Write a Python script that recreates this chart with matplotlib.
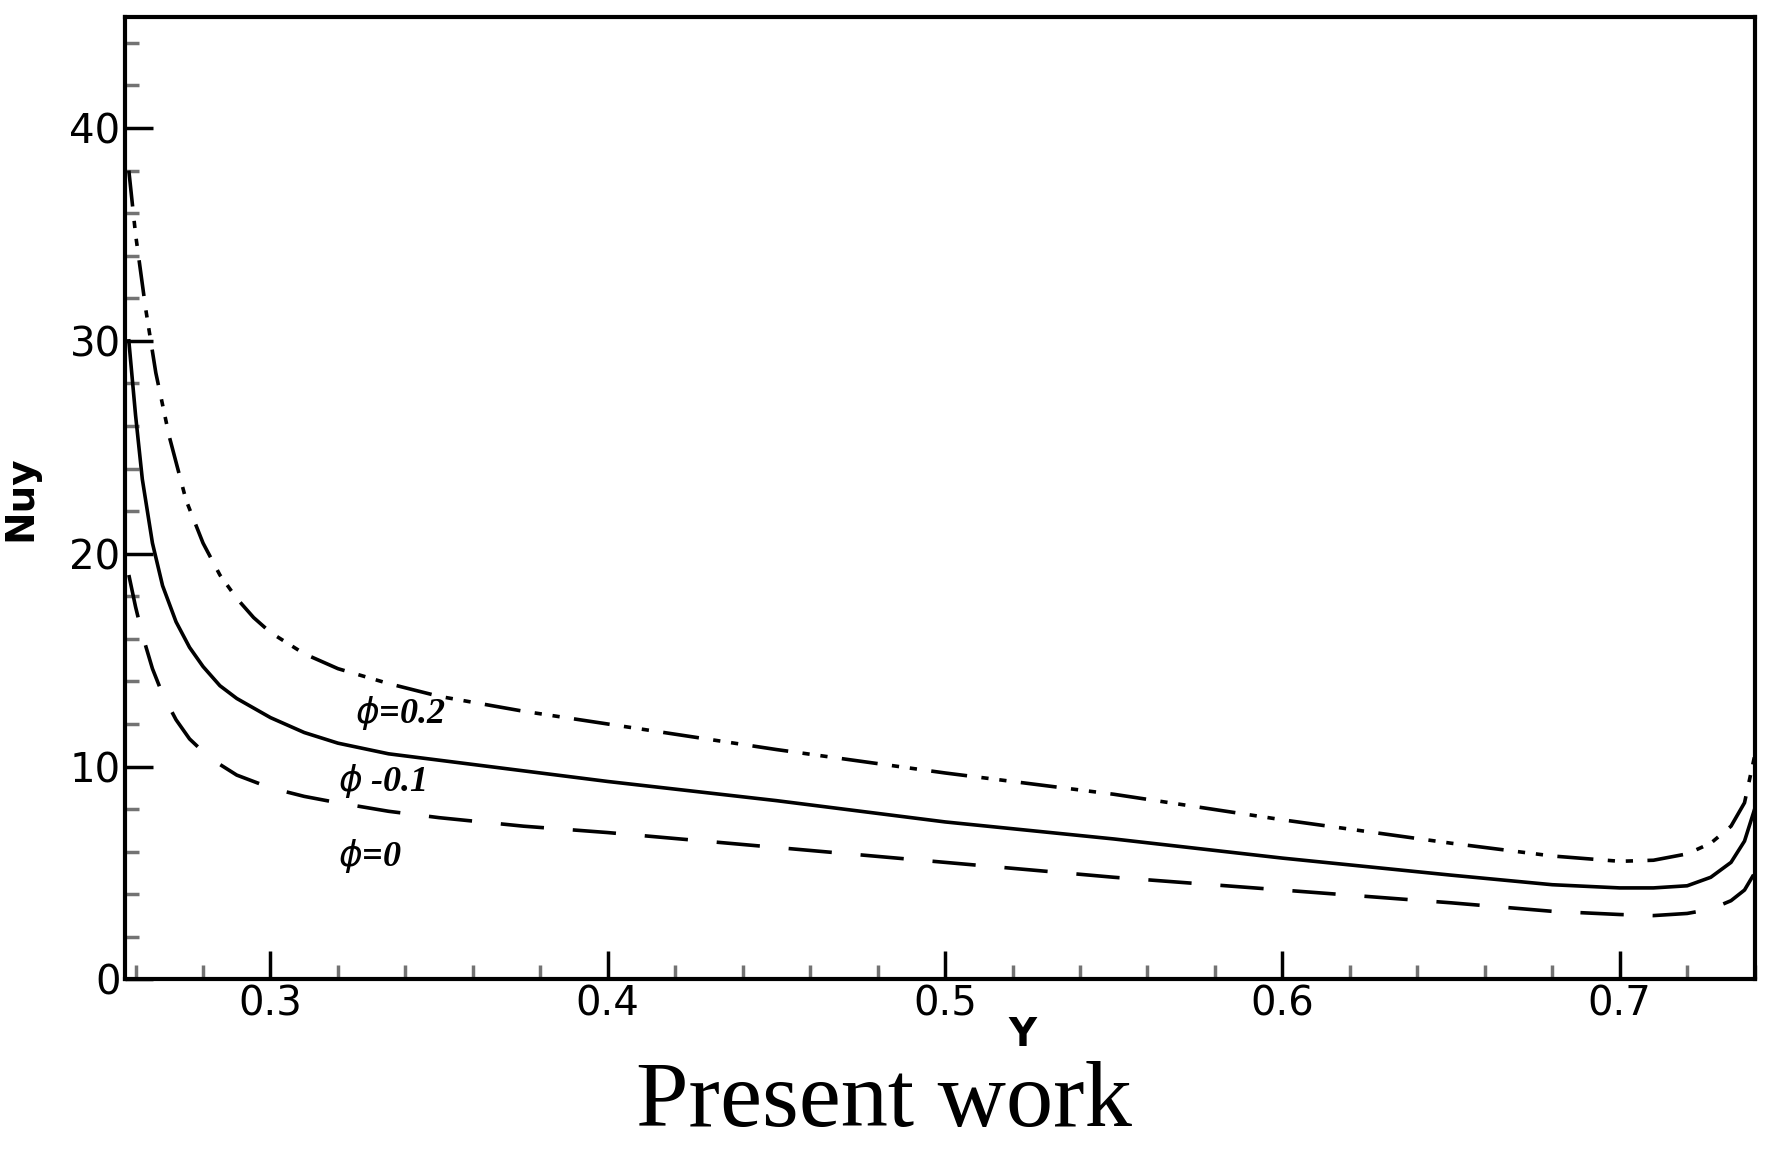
import matplotlib
matplotlib.use("Agg")
import matplotlib.pyplot as plt
from matplotlib.ticker import MultipleLocator

# Nuy vs Y for three volume fractions
y_02 = [0.258, 0.260, 0.263, 0.266, 0.270, 0.275, 0.280, 0.285, 0.290, 0.295, 0.30, 0.31, 0.32, 0.335, 0.35, 0.375,
        0.40, 0.45, 0.50, 0.55, 0.60, 0.65, 0.68, 0.70, 0.71, 0.72, 0.727, 0.733, 0.737, 0.74]
nu_02 = [38, 35, 31.5, 28.5, 25.5, 22.5, 20.5, 19.0, 17.9, 17.0, 16.3, 15.3, 14.6, 13.9, 13.3, 12.6,
         12.0, 10.8, 9.7, 8.7, 7.5, 6.4, 5.8, 5.55, 5.6, 5.9, 6.4, 7.2, 8.3, 10.5]

y_01 = [0.258, 0.260, 0.262, 0.265, 0.268, 0.272, 0.276, 0.280, 0.285, 0.29, 0.30, 0.31, 0.32, 0.335, 0.35, 0.375,
        0.40, 0.45, 0.50, 0.55, 0.60, 0.65, 0.68, 0.70, 0.71, 0.72, 0.727, 0.733, 0.737, 0.74]
nu_01 = [30, 26.5, 23.5, 20.5, 18.5, 16.8, 15.6, 14.7, 13.8, 13.2, 12.3, 11.6, 11.1, 10.6, 10.3, 9.8,
         9.3, 8.4, 7.4, 6.6, 5.7, 4.9, 4.45, 4.3, 4.3, 4.4, 4.8, 5.5, 6.5, 8.0]

y_00 = [0.258, 0.260, 0.262, 0.265, 0.268, 0.272, 0.276, 0.280, 0.285, 0.29, 0.30, 0.31, 0.32, 0.335, 0.35, 0.375,
        0.40, 0.45, 0.50, 0.55, 0.60, 0.65, 0.68, 0.70, 0.71, 0.72, 0.727, 0.733, 0.737, 0.74]
nu_00 = [19, 17.5, 16.2, 14.6, 13.4, 12.2, 11.3, 10.7, 10.1, 9.6, 9.0, 8.6, 8.3, 7.9, 7.6, 7.2,
         6.9, 6.2, 5.5, 4.8, 4.2, 3.6, 3.2, 3.05, 3.0, 3.1, 3.3, 3.7, 4.2, 5.0]

fig = plt.figure(figsize=(17.67, 11.55), dpi=100)
ax = fig.add_axes([0.071, 0.152, 0.922, 0.833])

ax.plot(y_02, nu_02, color="black", lw=2.6, dashes=[10, 4, 2, 3, 2, 4])
ax.plot(y_01, nu_01, color="black", lw=2.6)
ax.plot(y_00, nu_00, color="black", lw=2.6, dashes=[12, 8])

ax.set_xlim(0.257, 0.74)
ax.set_ylim(0, 45.2)
ax.xaxis.set_major_locator(MultipleLocator(0.1))
ax.xaxis.set_minor_locator(MultipleLocator(0.02))
ax.yaxis.set_major_locator(MultipleLocator(10))
ax.yaxis.set_minor_locator(MultipleLocator(2))
ax.tick_params(which="both", direction="in", top=False, right=False, labelsize=29, width=2.5)
ax.tick_params(which="major", length=20)
ax.tick_params(which="minor", length=10, color="0.45")
for s in ax.spines.values():
    s.set_linewidth(3)

ax.set_ylabel("Nuy", fontsize=28, fontweight="bold", labelpad=22)
ax.text(0.523, -2.6, "Y", fontsize=28, fontweight="bold", ha="center", va="center")

lab = dict(family="Liberation Serif", fontweight="bold", style="italic", fontsize=26, va="center")
ax.text(0.325, 12.5, r"$\phi$=0.2", **lab)
ax.text(0.320, 9.3, r"$\phi$ -0.1", **lab)
ax.text(0.320, 5.8, r"$\phi$=0", **lab)

fig.text(0.5, 0.045, "Present work", family="Liberation Serif", fontsize=68, ha="center", va="center")

fig.savefig("out.png", dpi=100)
